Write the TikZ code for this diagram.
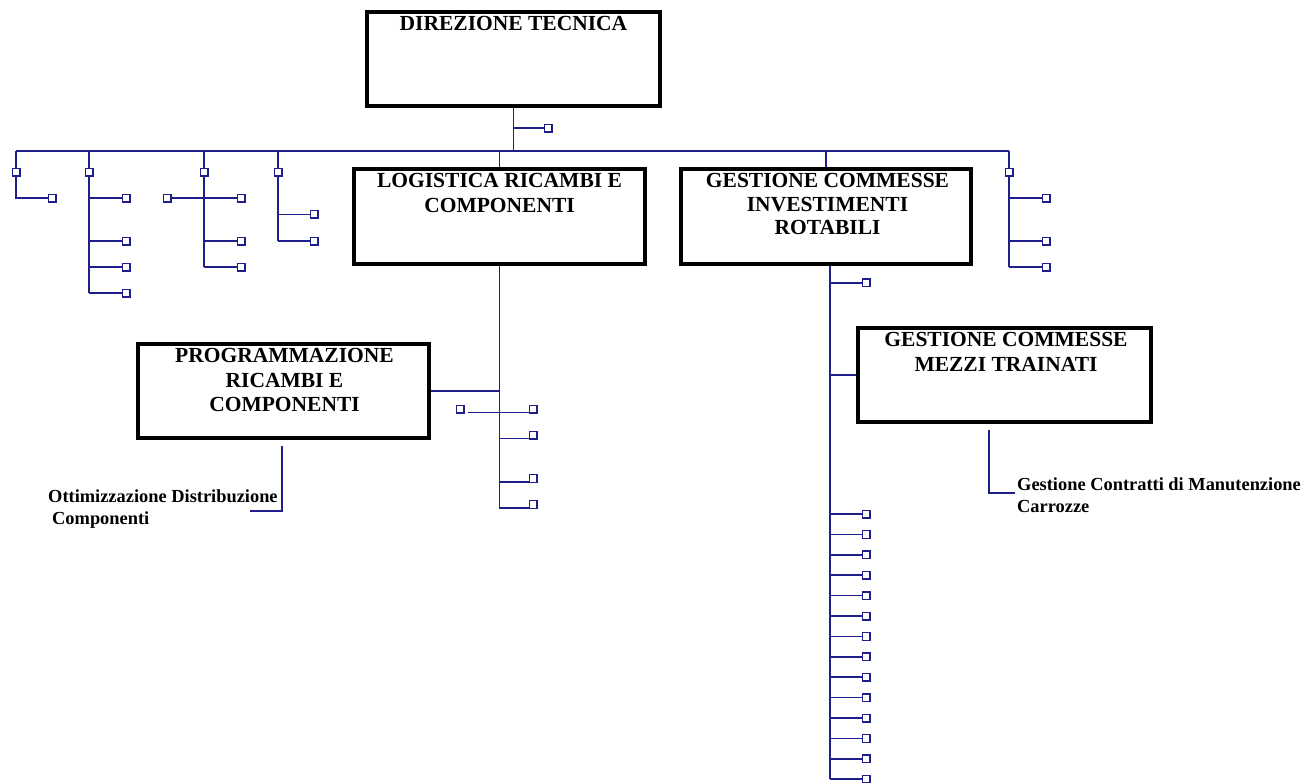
\documentclass[tikz,border=0pt]{standalone}
\usepackage{fontspec}
\setmainfont{Liberation Serif}
\definecolor{ln}{RGB}{30,30,140}
\begin{document}
\begin{tikzpicture}[x=1pt,y=-1pt,
  unitbox/.style={draw=black, line width=4pt, fill=white, inner sep=0pt},
  boxtext/.style={font=\fontsize{21.5}{24.5}\selectfont\bfseries, align=center, inner sep=0pt, anchor=north},
  smalltext/.style={font=\fontsize{18.4}{22}\selectfont\bfseries, align=left, inner sep=0pt, anchor=north west},
  link/.style={draw=ln, line width=1.6pt},
  sq/.style={draw=ln, fill=white, line width=1.4pt, minimum size=7.6pt, inner sep=0pt, outer sep=0pt},
]
\useasboundingbox (0,0) rectangle (1306,782);

% main boxes
\node[unitbox, minimum width=293pt, minimum height=94pt] (dir) at (513.5,59) {};
\node[boxtext] (dirt) at (513.5,16.5) {DIREZIONE TECNICA};
\node[unitbox, minimum width=291pt, minimum height=95pt] (log) at (499.5,216.5) {};
\node[boxtext] (logt) at (499.5,173.5) {LOGISTICA RICAMBI E\\COMPONENTI};
\node[unitbox, minimum width=290pt, minimum height=95pt] (inv) at (826,216.5) {};
\node[boxtext, font=\fontsize{21.5}{23.5}\selectfont\bfseries] (invt) at (827.5,173.5) {GESTIONE COMMESSE\\INVESTIMENTI\\ROTABILI};
\node[unitbox, minimum width=291pt, minimum height=94pt] (prog) at (283.5,391) {};
\node[boxtext] (progt) at (284.5,348.5) {PROGRAMMAZIONE\\RICAMBI E\\COMPONENTI};
\node[unitbox, minimum width=293pt, minimum height=94pt] (mez) at (1004.5,375) {};
\node[boxtext] (mezt) at (1006,332.5) {GESTIONE COMMESSE\\MEZZI TRAINATI};

% main horizontal line
\coordinate (m1) at (16,151);
\coordinate (m2) at (1009,151);
\draw[link] (m1) -- (m2);
\draw[link] (dir.south) -- (dir.south |- m1);
\node[sq] (s0) at (548,128) {};
\draw[link] (dir.south |- s0) -- (s0);
\draw[link] (log.north |- m1) -- (log.north);
\draw[link] (inv.north |- m1) -- (inv.north);

% branch 1
\node[sq] (b1t) at (16,172) {};
\node[sq] (b1a) at (52,198) {};
\draw[link] (b1t |- m1) -- (b1t);
\draw[link] (b1t) -- (b1t |- b1a) -- (b1a);

% branch 2
\node[sq] (b2t) at (89,172) {};
\foreach \n/\y in {a/198,b/241,c/267,d/293} \node[sq] (b2\n) at (126,\y) {};
\draw[link] (b2t |- m1) -- (b2t);
\draw[link] (b2t) -- (b2t |- b2d);
\foreach \n in {a,b,c,d} \draw[link] (b2t |- b2\n) -- (b2\n);

% branch 3
\node[sq] (b3t) at (204,172) {};
\foreach \n/\y in {a/198,b/241,c/267} \node[sq] (b3\n) at (241,\y) {};
\node[sq] (b3l) at (167,198) {};
\draw[link] (b3t |- m1) -- (b3t);
\draw[link] (b3t) -- (b3t |- b3c);
\foreach \n in {a,b,c} \draw[link] (b3t |- b3\n) -- (b3\n);
\draw[link] (b3l) -- (b3t |- b3l);

% branch 4
\node[sq] (b4t) at (278,172) {};
\foreach \n/\y in {a/214.3,b/241} \node[sq] (b4\n) at (314,\y) {};
\draw[link] (b4t |- m1) -- (b4t);
\draw[link] (b4t) -- (b4t |- b4b);
\foreach \n in {a,b} \draw[link] (b4t |- b4\n) -- (b4\n);

% right branch
\node[sq] (b5t) at (1009,172) {};
\foreach \n/\y in {a/198,b/241,c/267} \node[sq] (b5\n) at (1046,\y) {};
\draw[link] (b5t |- m2) -- (b5t);
\draw[link] (b5t) -- (b5t |- b5c);
\foreach \n in {a,b,c} \draw[link] (b5t |- b5\n) -- (b5\n);

% logistica column
\coordinate (lend) at (499,507.7);
\draw[link] (log.south) -- (log.south |- lend);
\draw[link] (log.south |- prog.east) -- (prog.east);
\node[sq] (l0) at (460,409) {};
\coordinate (l0e) at (468,412.3);
\foreach \n/\y in {1/409,2/435,3/478.4,4/504.4} \node[sq] (l\n) at (533,\y) {};
\draw[link] (l0e) -- (l0e -| l1.west);
\foreach \n/\y in {2/438.3,3/481.7,4/507.7} \draw[link] (499,\y) -- (529,\y);

% programmazione leg
\coordinate (p0) at (282,446);
\coordinate (p1) at (282,510.7);
\coordinate (p2) at (250,510.7);
\draw[link] (p0) -- (p1) -- (p2);
\node[smalltext] (ott) at (48,489.4) {Ottimizzazione Distribuzione\\\hspace*{4pt}Componenti};

% investimenti column
\coordinate (c0) at (830,266);
\coordinate (cend) at (830,779.3);
\draw[link] (c0) -- (cend);
\node[sq] (c1) at (866,282.7) {};
\draw[link] (c0 |- c1) -- (c1);
\draw[link] (c0 |- mez.west) -- (mez.west);
\foreach \k in {0,...,13} {
  \node[sq] (cc\k) at (866,{514+20.4*\k}) {};
  \draw[link] (c0 |- cc\k) -- (cc\k);
}

% mezzi leg
\coordinate (g0) at (989,430);
\coordinate (g1) at (989,493);
\coordinate (g2) at (1015,493);
\draw[link] (g0) -- (g1) -- (g2);
\node[smalltext] (gest) at (1017,477.4) {Gestione Contratti di Manutenzione\\Carrozze};

\end{tikzpicture}
\end{document}
